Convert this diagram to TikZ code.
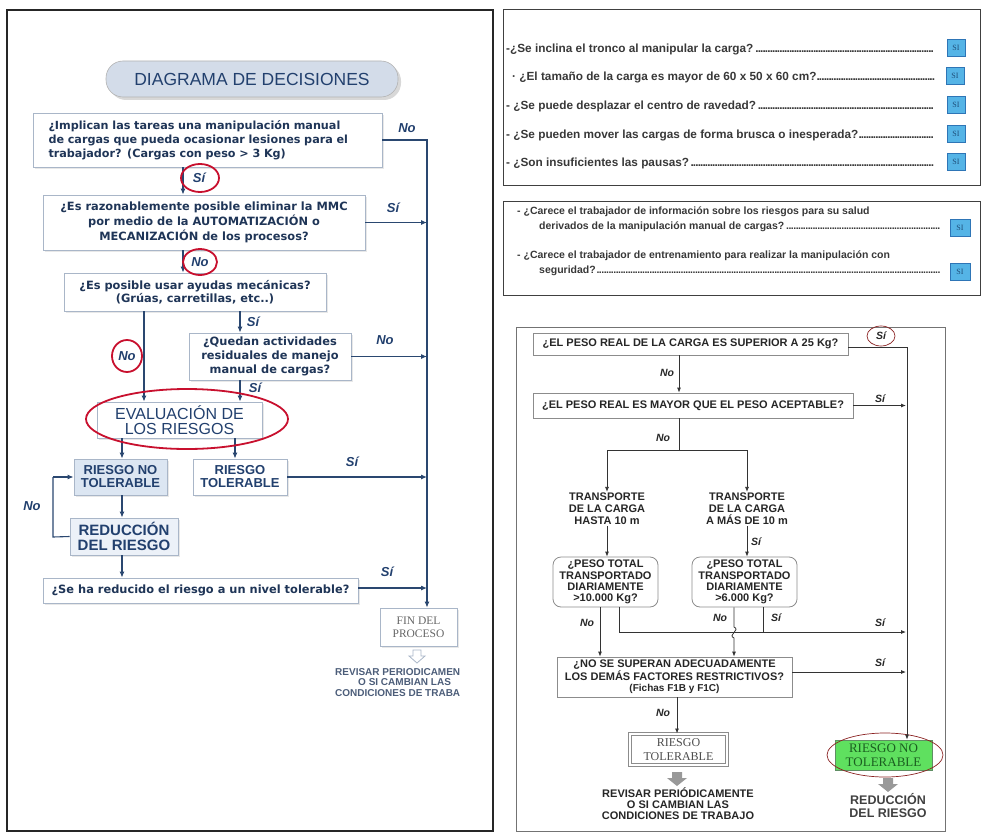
\documentclass[tikz,border=0pt]{standalone}
\usepackage{fontspec}
\setmainfont{Liberation Sans}
\newfontfamily\serifff{Liberation Serif}
\newfontfamily\dejavu{DejaVu Sans}
\usetikzlibrary{arrows.meta,shapes.geometric,shadows,calc}
\definecolor{navy}{HTML}{22406E}
\definecolor{ltext}{HTML}{1F3557}
\definecolor{lborder}{HTML}{A9B6C8}
\definecolor{larrow}{HTML}{2A4770}
\definecolor{redc}{HTML}{C8102E}
\definecolor{sifill}{HTML}{55B4E6}
\definecolor{siline}{HTML}{2E75B6}
\definecolor{sitext}{HTML}{1F4E79}
\definecolor{green1}{HTML}{5FE05F}
\definecolor{green2}{HTML}{1B5E20}
\definecolor{dred}{HTML}{8B2323}
\definecolor{titlefill}{HTML}{D3DCE9}
\definecolor{rntfill}{HTML}{DCE6F2}
\definecolor{redfill}{HTML}{ECF1F8}
\newcommand\mydots{\leaders\hbox to 2.4pt{\hss.\hss}\hfill\kern0pt}
\begin{document}
\begin{tikzpicture}[x=1pt,y=-1pt,
  lbox/.style={draw=lborder, line width=0.8pt, fill=white, inner sep=1pt, align=center,
    font=\dejavu\bfseries\fontsize{11.4}{14.5}\selectfont, text=ltext,
    drop shadow={shadow xshift=2pt, shadow yshift=-2pt, fill=black!18}},
  bigbox/.style={lbox, text=navy, fill=#1},
  title/.style={draw=black!30, line width=0.6pt, rounded corners=17pt, fill=titlefill,
    minimum width=292pt, minimum height=36pt, font=\fontsize{17.5}{18}\selectfont, text=navy,
    drop shadow={shadow xshift=3pt, shadow yshift=-3pt, fill=black!30}},
  larr/.style={draw=larrow, line width=1.1pt, -{Latex[length=6pt,width=5pt]}},
  lline/.style={draw=larrow, line width=1.1pt},
  llab/.style={font=\bfseries\itshape\fontsize{13}{13}\selectfont, text=navy, inner sep=0pt},
  rc/.style={draw=redc, line width=1.8pt},
  rtxt/.style={anchor=west, inner sep=0pt, font=\bfseries\fontsize{11.8}{13}\selectfont, text=black!78},
  mtxt/.style={anchor=west, inner sep=0pt, font=\bfseries\fontsize{10.5}{12}\selectfont, text=black!78},
  sibox/.style={draw=siline, line width=0.7pt, fill=sifill, minimum width=18pt, minimum height=17pt, inner sep=0pt,
    font=\serifff\fontsize{8}{8}\selectfont, text=sitext},
  rbox/.style={draw=black!45, line width=0.8pt, fill=white, inner sep=1pt, align=center,
    font=\bfseries\fontsize{11}{11.5}\selectfont, text=black!85},
  rtext/.style={inner sep=1pt, align=center, font=\bfseries\fontsize{11}{12}\selectfont, text=black!85},
  rarr/.style={draw=black!80, line width=0.8pt, -{Latex[length=5pt,width=4pt]}},
  rline/.style={draw=black!80, line width=0.8pt},
  rlab/.style={font=\bfseries\itshape\fontsize{10.5}{10.5}\selectfont, text=black!85, inner sep=0pt},
  garrow/.pic={\fill[black!40] (-5,-6) -- (5,-6) -- (5,0) -- (10,0) -- (0,8) -- (-10,0) -- (-5,0) -- cycle;},
  oarrow/.pic={\draw[lborder, line width=0.8pt, fill=white] (-4,-6) -- (4,-6) -- (4,0) -- (8,0) -- (0,7) -- (-8,0) -- (-4,0) -- cycle;}
]
\useasboundingbox (0,0) rectangle (982,832);
% ---------------- frames
\draw[line width=1.3pt, black!85] (7,10) rectangle (493,831);
\draw[line width=1pt, black!75] (503,10) rectangle (980,185);
\draw[line width=1pt, black!75] (503,201) rectangle (980,295);
\draw[line width=0.8pt, black!55] (516,327) rectangle (945,831);

% ---------------- left panel
\node[title] (ttl) at (252,79) {DIAGRAMA DE DECISIONES};
\node[lbox, minimum width=349pt, minimum height=54pt, text width=318pt, align=left, font=\dejavu\bfseries\fontsize{11.2}{14}\selectfont] (q1) at (207.5,140)
  {¿Implican las tareas una manipulación manual\\de cargas que pueda ocasionar lesiones para el\\trabajador? (Cargas con peso > 3 Kg)};
\node[lbox, minimum width=322pt, minimum height=55pt, font=\dejavu\bfseries\fontsize{11.4}{15}\selectfont] (q2) at (204,222.5)
  {¿Es razonablemente posible eliminar la MMC\\por medio de la AUTOMATIZACIÓN o\\MECANIZACIÓN de los procesos?};
\node[lbox, minimum width=262pt, minimum height=38pt, font=\dejavu\bfseries\fontsize{11.4}{13}\selectfont] (q3) at (195,292)
  {¿Es posible usar ayudas mecánicas?\\(Grúas, carretillas, etc..)};
\node[lbox, minimum width=162pt, minimum height=47pt, font=\dejavu\bfseries\fontsize{11.4}{14}\selectfont] (q4) at (270,356.5)
  {¿Quedan actividades\\residuales de manejo\\manual de cargas?};
\node[bigbox=white, minimum width=165pt, minimum height=36pt, font=\fontsize{16}{15}\selectfont] (ev) at (179.5,420)
  {EVALUACIÓN DE\\LOS RIESGOS};
\node[bigbox=rntfill, minimum width=93pt, minimum height=36pt, font=\bfseries\fontsize{13}{13}\selectfont] (rnt) at (120.5,477)
  {RIESGO NO\\TOLERABLE};
\node[bigbox=white, minimum width=94pt, minimum height=36pt, font=\bfseries\fontsize{13}{13}\selectfont] (rt) at (240,477)
  {RIESGO\\TOLERABLE};
\node[bigbox=redfill, minimum width=108pt, minimum height=37pt, font=\bfseries\fontsize{15}{15}\selectfont] (red) at (124,536.5)
  {REDUCCIÓN\\DEL RIESGO};
\node[lbox, minimum width=315pt, minimum height=25pt] (q5) at (200.5,590.5)
  {¿Se ha reducido el riesgo a un nivel tolerable?};
\node[lbox, minimum width=77pt, minimum height=38pt, font=\serifff\fontsize{11.5}{13}\selectfont, text=black!60] (fin) at (418.5,627)
  {FIN DEL\\PROCESO};
\pic at (417,656) {oarrow};
\node[anchor=west, inner sep=0pt, font=\bfseries\fontsize{10}{10}\selectfont, text=ltext!80] (rv1) at (335,672) {REVISAR PERIODICAMEN};
\node[anchor=west, inner sep=0pt, font=\bfseries\fontsize{10}{10}\selectfont, text=ltext!80] (rv2) at (358,682.5) {O SI CAMBIAN LAS};
\node[anchor=west, inner sep=0pt, font=\bfseries\fontsize{10}{10}\selectfont, text=ltext!80] (rv3) at (335,693) {CONDICIONES DE TRABA};

% connectors left
\coordinate (vline) at (427,0);
\coordinate (xa) at (183,0);
\coordinate (xb) at (144,0);
\coordinate (xc) at (240,0);
\coordinate (xd) at (122,0);
\coordinate (xe) at (235,0);
\coordinate (lp1) at (53,537);
\coordinate (lp2) at (53,477);
\draw[larr] (q1.east) -| (fin.north -| vline);
\draw[larr] (q2.east) -- (q2.east -| vline);
\draw[larr] (q4.east) -- (q4.east -| vline);
\draw[larr] (rt.east) -- (rt.east -| vline);
\draw[larr] ([yshift=2.5pt]q5.east) -- ([yshift=2.5pt]q5.east -| vline);
\draw[larr] (q1.south -| xa) -- (q2.north -| xa);
\draw[larr] (q2.south -| xa) -- (q3.north -| xa);
\draw[larr] (q3.south -| xb) -- (ev.north -| xb);
\draw[larr] (q3.south -| xc) -- (q4.north -| xc);
\draw[larr] (q4.south -| xc) -- (ev.north -| xc);
\draw[larr] (ev.south -| xd) -- (rnt.north -| xd);
\draw[larr] (ev.south -| xe) -- (rt.north -| xe);
\draw[larr] (rnt.south -| xd) -- (red.north -| xd);
\draw[larr] (red.south -| xd) -- (q5.north -| xd);
\draw[lline] (red.west) -- (lp1) -- (lp2);
\draw[larr] (lp2) -- (rnt.west);

% red circles and labels
\draw[rc] (200,178) ellipse [x radius=19pt, y radius=14pt];
\draw[rc] (200,262) ellipse [x radius=17pt, y radius=13pt];
\draw[rc] (127,356) ellipse [x radius=15pt, y radius=16pt];
\draw[rc] (187,419) ellipse [x radius=101pt, y radius=30pt];
\node[llab] (l1) at (407,128) {No};
\node[llab] (l2) at (393,208) {Sí};
\node[llab] (l3) at (199,178) {Sí};
\node[llab] (l4) at (200,262) {No};
\node[llab] (l5) at (253,322) {Sí};
\node[llab] (l6) at (127,356) {No};
\node[llab] (l7) at (385,340) {No};
\node[llab] (l8) at (255,388) {Sí};
\node[llab] (l9) at (352,462) {Sí};
\node[llab] (l10) at (32,506) {No};
\node[llab] (l11) at (387,572) {Sí};

% ---------------- right top box
\node[rtxt] (t1) at (506,49) {\parbox{429pt}{-¿Se inclina el tronco al manipular la carga?\mydots}};
\node[rtxt] (t2) at (512,77) {\parbox{423pt}{· ¿El tamaño de la carga es mayor de 60 x 50 x 60 cm?\mydots}};
\node[rtxt] (t3) at (506,106) {\parbox{429pt}{- ¿Se puede desplazar el centro de ravedad?\mydots}};
\node[rtxt] (t4) at (506,135) {\parbox{429pt}{- ¿Se pueden mover las cargas de forma brusca o inesperada?\mydots}};
\node[rtxt] (t5) at (506,163) {\parbox{429pt}{- ¿Son insuficientes las pausas?\mydots}};
\node[sibox] (s1) at (956,48) {SI};
\node[sibox] (s2) at (955,76) {SI};
\node[sibox] (s3) at (956,105) {SI};
\node[sibox] (s4) at (956,134) {SI};
\node[sibox] (s5) at (956,162) {SI};

% ---------------- right middle box
\node[mtxt] (m1) at (517,212) {- ¿Carece el trabajador de información sobre los riesgos para su salud};
\node[mtxt] (m2) at (539,227) {\parbox{401pt}{derivados de la manipulación manual de cargas?\mydots}};
\node[mtxt] (m3) at (517,256) {- ¿Carece el trabajador de entrenamiento para realizar la manipulación con};
\node[mtxt] (m4) at (539,271) {\parbox{401pt}{seguridad?\mydots}};
\node[sibox, minimum width=20pt] (s6) at (960,228) {SI};
\node[sibox, minimum width=20pt] (s7) at (960,272) {SI};

% ---------------- right bottom flowchart
\node[rbox, minimum width=315pt, minimum height=22pt] (b1) at (690.5,344) {¿EL PESO REAL DE LA CARGA ES SUPERIOR A 25 Kg?};
\node[rbox, minimum width=320pt, minimum height=25pt] (b2) at (693,405.5) {¿EL PESO REAL ES MAYOR QUE EL PESO ACEPTABLE?};
\node[rtext] (tr1) at (607,509) {TRANSPORTE\\DE LA CARGA\\HASTA 10 m};
\node[rtext] (tr2) at (747,509) {TRANSPORTE\\DE LA CARGA\\A MÁS DE 10 m};
\node[rbox, rounded corners=8pt, minimum width=105pt, minimum height=50pt, font=\bfseries\fontsize{11}{11.3}\selectfont] (p1) at (605.5,582)
  {¿PESO TOTAL\\TRANSPORTADO\\DIARIAMENTE\\>10.000 Kg?};
\node[rbox, rounded corners=8pt, minimum width=105pt, minimum height=50pt, font=\bfseries\fontsize{11}{11.3}\selectfont] (p2) at (744.5,582)
  {¿PESO TOTAL\\TRANSPORTADO\\DIARIAMENTE\\>6.000 Kg?};
\node[rbox, minimum width=235pt, minimum height=40pt] (b3) at (674.5,677)
  {¿NO SE SUPERAN ADECUADAMENTE\\LOS DEMÁS FACTORES RESTRICTIVOS?\\{\fontsize{10}{11.5}\selectfont (Fichas F1B y F1C)}};
\node[draw=black!45, double=white, double distance=1.2pt, line width=1pt, minimum width=97pt, minimum height=31pt, inner sep=0pt,
  align=center, font=\serifff\fontsize{12}{14}\selectfont, text=black!70] (rt2) at (678.5,749.5) {RIESGO\\TOLERABLE};
\node[draw=green2!70, line width=0.8pt, fill=green1, minimum width=97pt, minimum height=30pt, inner sep=0pt,
  align=center, font=\serifff\fontsize{13}{14}\selectfont, text=green2] (rnt2) at (883.5,755) {RIESGO NO\\TOLERABLE};
\draw[dred, line width=0.7pt] (885,755) ellipse [x radius=58pt, y radius=22pt];
\pic at (677,778) {garrow};
\pic at (888,784) {garrow};
\node[rtext, font=\bfseries\fontsize{11}{11}\selectfont] (rv4) at (678,804) {REVISAR PERIÓDICAMENTE\\O SI CAMBIAN LAS\\CONDICIONES DE TRABAJO};
\node[rtext, font=\bfseries\fontsize{12.5}{13}\selectfont, text=black!75] (rd2) at (888,806) {REDUCCIÓN\\DEL RIESGO};

% connectors right
\coordinate (v2) at (907,0);
\coordinate (v2s) at (906,0);
\coordinate (split) at (679,450);
\coordinate (p1no) at (600,0);
\coordinate (p1si) at (619,632);
\coordinate (hopA) at (734,627);
\coordinate (hopB) at (734,638);
\coordinate (p2si) at (763,632);
\coordinate (rtx) at (677,0);
\draw[rarr] ([yshift=-3pt]b1.east) -| (rnt2.north -| v2);
\draw[rarr] (b2.east) -- (b2.east -| v2s);
\draw[rarr] (b1.south -| split) -- (b2.north -| split);
\draw[rline] (b2.south -| split) -- (split);
\draw[rarr] (split) -| (tr1.north);
\draw[rarr] (split) -| (tr2.north);
\draw[rarr] (tr1.south) -- (tr1.south |- p1.north);
\draw[rarr] (tr2.south) -- (tr2.south |- p2.north);
\draw[rarr] (p1.south -| p1no) -- (b3.north -| p1no);
\draw[rline] (p1.south -| p1si) -- (p1si);
\draw[rarr] (p1si) -- (p1si -| v2s);
\draw[rarr] (p2.south -| hopA) -- (hopA) .. controls (741,630) and (727,635) .. (hopB) -- (b3.north -| hopB);
\draw[rline] (p2.south -| p2si) -- (p2si);
\draw[rarr] ([yshift=5pt]b3.east) -- ([yshift=5pt]b3.east -| v2s);
\draw[rarr] (b3.south -| rtx) -- (rt2.north -| rtx);

% labels right
\draw[dred, line width=0.7pt] (881,336) ellipse [x radius=14pt, y radius=10pt];
\node[rlab] (k1) at (881,336) {Sí};
\node[rlab] (k2) at (667,373) {No};
\node[rlab] (k3) at (880,399) {Sí};
\node[rlab] (k4) at (663,438) {No};
\node[rlab] (k5) at (756,542) {Sí};
\node[rlab] (k6) at (587,623) {No};
\node[rlab] (k7) at (720,618) {No};
\node[rlab] (k8) at (776,618) {Sí};
\node[rlab] (k9) at (880,623) {Sí};
\node[rlab] (k10) at (880,663) {Sí};
\node[rlab] (k11) at (663,713) {No};
\end{tikzpicture}
\end{document}
